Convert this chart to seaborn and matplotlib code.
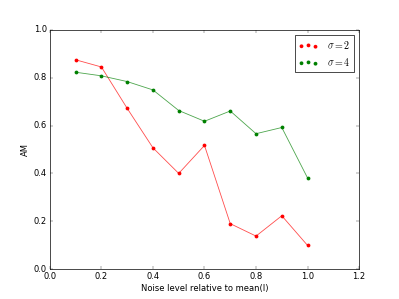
import matplotlib
matplotlib.use("Agg")
import matplotlib.pyplot as plt
import seaborn as sns
import pandas as pd

noise = [0.1, 0.2, 0.3, 0.4, 0.5, 0.6, 0.7, 0.8, 0.9, 1.0]
am_sigma2 = [0.875, 0.845, 0.672, 0.507, 0.400, 0.517, 0.190, 0.138, 0.223, 0.099]
am_sigma4 = [0.823, 0.808, 0.784, 0.749, 0.663, 0.618, 0.661, 0.566, 0.592, 0.381]
labels = [r"$\sigma=2$", r"$\sigma=4$"]
colors = ["red", "green"]

plt.style.use("classic")
fig = plt.figure(figsize=(7.98, 5.98), dpi=50)
ax = fig.add_subplot(111)

for vals, lab, col in zip([am_sigma2, am_sigma4], labels, colors):
    df = pd.DataFrame({"x": noise, "y": vals})
    sns.lineplot(data=df, x="x", y="y", color=col, alpha=0.7, lw=1.2, ax=ax, legend=False)
    sns.scatterplot(data=df, x="x", y="y", color=col, s=30, linewidth=0, ax=ax, label=lab)

ax.set_xlim(0, 1.2)
ax.set_ylim(0, 1.0)
ax.set_xticks([0.0, 0.2, 0.4, 0.6, 0.8, 1.0, 1.2])
ax.set_yticks([0.0, 0.2, 0.4, 0.6, 0.8, 1.0])
ax.set_xlabel("Noise level relative to mean(I)")
ax.set_ylabel("AM")
ax.legend(loc="upper right", scatterpoints=3)
fig.subplots_adjust(left=0.125, right=0.9, bottom=0.1, top=0.9)
fig.savefig("out.png", dpi=50)
